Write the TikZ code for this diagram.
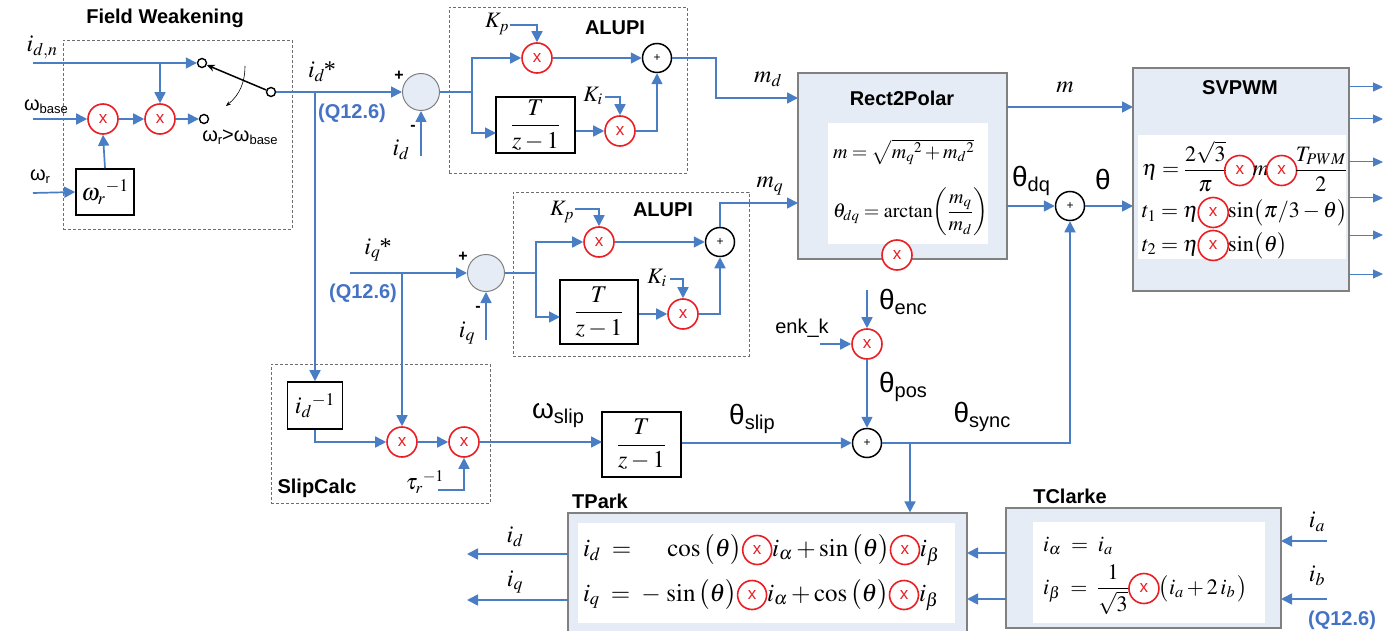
\documentclass[tikz,border=0pt]{standalone}
\usepackage{amsmath}
\usepackage{mathptmx}
\usepackage{fontspec}
\setmainfont{Liberation Serif}
\setsansfont{Liberation Sans}
\usetikzlibrary{arrows.meta,calc}
\definecolor{bl}{RGB}{74,126,196}
\definecolor{qb}{RGB}{68,114,196}
\definecolor{rd}{RGB}{235,30,35}
\definecolor{pf}{RGB}{230,236,246}
\definecolor{pb}{RGB}{128,128,128}
\definecolor{dg}{RGB}{110,110,110}
\newcommand{\glab}[2]{{\sffamily\fontsize{28}{28}\selectfont #1\raisebox{-5pt}{\fontsize{20}{20}\selectfont #2}}}
\newcommand{\wlab}[2]{{\sffamily\fontsize{20}{20}\selectfont #1\raisebox{-3pt}{\fontsize{13}{13}\selectfont #2}}}
\newcommand{\tzf}{{\fontsize{24}{26}\selectfont$\dfrac{T}{z-1}$}}
\begin{document}
\begin{tikzpicture}[x=1pt,y=-1pt,
  ln/.style={draw=bl,line width=1.7pt},
  ar/.style={ln,-{Triangle[length=11pt,width=11pt]}},
  arthin/.style={draw=bl,line width=1pt,-{Triangle[length=10pt,width=9pt]}},
  mult/.style={circle,draw=rd,line width=1.6pt,minimum size=30pt,inner sep=0pt,fill=white,text=rd,font=\sffamily\fontsize{17}{17}\selectfont},
  rxf/.style={mult,fill=none},
  sumc/.style={circle,draw=black,line width=1.5pt,minimum size=29pt,inner sep=0pt,fill=white,font=\sffamily\fontsize{12}{12}\selectfont},
  bsum/.style={circle,draw=pb,line width=1pt,fill=pf,minimum size=37pt,inner sep=0pt},
  blk/.style={draw=black,line width=1.6pt,inner sep=0pt,fill=white},
  dbox/.style={draw=dg,line width=0.9pt,dash pattern=on 3pt off 2pt,inner sep=0pt},
  panel/.style={draw=pb,line width=1.2pt,fill=pf,inner sep=0pt},
  wpanel/.style={fill=white,inner sep=0pt},
  contact/.style={circle,draw=black,line width=1.4pt,minimum size=9pt,inner sep=0pt,fill=white},
  ttl/.style={inner sep=0pt,font=\sffamily\bfseries\fontsize{20}{22}\selectfont},
  qlab/.style={inner sep=0pt,text=qb,font=\sffamily\bfseries\fontsize{20}{22}\selectfont},
  lbl/.style={inner sep=0pt,font=\fontsize{24}{26}\selectfont},
  lbltwo/.style={inner sep=0pt,font=\fontsize{22}{24}\selectfont},
  glbl/.style={inner sep=0pt},
  slbl/.style={inner sep=0pt,font=\sffamily\fontsize{20}{22}\selectfont},
  sgn/.style={inner sep=0pt,font=\sffamily\bfseries\fontsize{16}{16}\selectfont},
  fmR/.style={inner sep=0pt,outer sep=0pt,font=\fontsize{20}{24}\selectfont},
  fmS/.style={inner sep=0pt,outer sep=0pt,anchor=base west,font=\fontsize{22}{26}\selectfont},
  fmP/.style={inner sep=0pt,outer sep=0pt,anchor=base west,font=\fontsize{25}{29}\selectfont},
  fmC/.style={inner sep=0pt,outer sep=0pt,anchor=base west,font=\fontsize{22}{26}\selectfont}
]
\useasboundingbox (0,0) rectangle (1394,631);
\clip (0,0) rectangle (1394,631);

% ---------- dashed group boxes ----------
\node[dbox,minimum width=229pt,minimum height=189pt] (fwb) at (177.5,134.5) {};
\node[dbox,minimum width=238pt,minimum height=166pt] (apd) at (568,90) {};
\node[dbox,minimum width=236pt,minimum height=164pt] (apq) at (631,274) {};
\node[dbox,minimum width=219pt,minimum height=139pt] (slb) at (380.5,433.5) {};

% ---------- Field Weakening ----------
\node[ttl] (fwt) at (165,18) {Field Weakening};
\node[lbl] (lidn) at (42,47) {$i_{d,n}$};
\coordinate (idnin) at (33,63);
\node[contact] (ca) at (202,63) {};
\node[contact] (cb) at (204,119) {};
\node[contact] (cp) at (271,92) {};
\node[mult] (m1) at (103,119) {x};
\node[mult] (m2) at (160,119) {x};
\node[slbl] (lwb) at (46,107) {\wlab{ω}{base}};
\coordinate (wbin) at (33,119);
\node[blk,minimum width=58pt,minimum height=46pt] (winv) at (105,192) {\fontsize{24}{26}\selectfont$\omega_r{}^{-1}$};
\node[slbl] (lwr) at (40,177) {\wlab{ω}{r}};
\coordinate (wrin) at (33,193);
\draw[ar] (idnin) -- (ca.west);
\draw[ar] (m2.north |- idnin) -- (m2.north);
\draw[ar] (wbin) -- (m1.west);
\draw[ar] (m1) -- (m2);
\draw[ar] (m2.east) -- (cb.west);
\draw[ar] (winv.north) -- (m1.south);
\draw[ar] (wrin) -- (winv.west);
\draw[line width=1.5pt,-{Stealth[length=8pt,width=7pt]}] (cp) -- (ca);
\coordinate (swa) at (245,66);
\coordinate (swb) at (226,106);
\draw[line width=0.6pt,-{Stealth[length=5pt,width=4pt]}] (swa) to[bend left=25] (swb);
\node[slbl] (lcond) at (240,137) {\wlab{ω}{r}>\wlab{ω}{base}};

% ---------- d-axis reference ----------
\node[bsum] (sd) at (421,92) {};
\draw[ar] (cp.east) -- (sd.west);
\node[lbl] (lids) at (322,72) {$i_d$\kern-1pt*};
\node[qlab] (q1) at (352,113) {(Q12.6)};
\coordinate (spl1) at (315,92);
\node[sgn] (pd) at (399,76) {+};
\node[sgn] (nd) at (413,128) {-};
\node[lbl] (lidfb) at (401,150) {$i_d$};
\coordinate (idfb) at (421,156);
\draw[ar] (idfb) -- (sd.south);

% ---------- ALUPI d ----------
\node[ttl] (apdt) at (615,28) {ALUPI};
\coordinate (brd) at (472,92);
\node[mult] (kpd) at (537,58) {x};
\node[blk,minimum width=79pt,minimum height=56pt] (tzd) at (535.5,125) {\tzf};
\coordinate (tzdin) at (496,133);
\node[mult] (kid) at (620,131) {x};
\node[sumc] (spd) at (657,58) {+};
\draw[ln] (sd.east) -- (brd);
\draw[ar] (brd) |- (kpd.west);
\draw[ar] (brd) |- (tzdin);
\node[lbltwo] (lkpd) at (497,24) {$K_p$};
\coordinate (kpdin) at (510,25);
\draw[ar] (kpdin) -| (kpd.north);
\node[lbltwo] (lkid) at (593,96) {$K_i$};
\coordinate (kidin) at (605,97);
\draw[ar] (kidin) -| (kid.north);
\draw[ar] (kpd) -- (spd);
\draw[ar] (tzd.east |- kid) -- (kid.west);
\draw[ar] (kid.east) -| (spd.south);
\coordinate (mdin) at (798,98);
\draw[ar] (spd.east) -- ++(44,0) |- (mdin);
\node[lbl] (lmd) at (768,79) {$m_d$};

% ---------- Rect2Polar ----------
\node[panel,minimum width=209pt,minimum height=186pt] (r2p) at (902.5,166) {};
\node[ttl] (r2pt) at (902,98) {Rect2Polar};
\node[wpanel,minimum width=160pt,minimum height=121pt] (r2pw) at (908,183.5) {};
\node[fmR,anchor=west] (rpf1) at (833,152) {$m = \sqrt{m_q{}^{2} + m_d{}^{2}}$};
\node[fmR,anchor=west] (rpf2) at (833,212) {$\theta_{dq} = \arctan\!\left(\dfrac{m_q}{m_d}\right)$};
\node[mult] (r2px) at (897,255) {x};

\coordinate (mo) at (1007,107);
\coordinate (mi) at (1133,107);
\draw[ar] (mo) -- (mi);
\node[lbl] (lm) at (1065,87) {$m$};
\node[sumc] (sth) at (1070,206) {+};
\coordinate (tho) at (1007,206);
\coordinate (thi) at (1133,206);
\draw[ar] (tho) -- (sth.west);
\draw[ar] (sth.east) -- (thi);
\node[glbl] (lthdq) at (1031,181) {\glab{θ}{dq}};
\node[glbl] (lth) at (1103,182) {\glab{θ}{}};

% ---------- SVPWM ----------
\node[panel,minimum width=216pt,minimum height=223pt] (sv) at (1241,179.5) {};
\node[ttl] (svt) at (1240,88) {SVPWM};
\node[wpanel,minimum width=208pt,minimum height=124pt] (svw) at (1242,197) {};
\foreach \yy in {87,119,162,198,235,274} {
  \draw[arthin] (1349,\yy) -- (1383,\yy);
}
\node[fmS] (e1) at (1142,176) {$\eta = \dfrac{2\sqrt{3}}{\pi}$};
\node[rxf] (ex1) at ([xshift=13pt,yshift=5.5pt]e1.base east) {x};
\node[fmS] (e2) at ([xshift=26pt]e1.base east) {$m$};
\node[rxf] (ex2) at ([xshift=13pt,yshift=5.5pt]e2.base east) {x};
\node[fmS] (e3) at ([xshift=26pt]e2.base east) {$\dfrac{T_{PWM}}{2}$};
\node[fmS] (t1a) at (1142,218) {$t_1 = \eta$};
\node[rxf] (t1x) at ([xshift=15pt,yshift=5.5pt]t1a.base east) {x};
\node[fmS] (t1b) at ([xshift=30pt]t1a.base east) {$\sin\bigl(\pi/3-\theta\bigr)$};
\node[fmS] (t2a) at (1142,251) {$t_2 = \eta$};
\node[rxf] (t2x) at ([xshift=15pt,yshift=5.5pt]t2a.base east) {x};
\node[fmS] (t2b) at ([xshift=30pt]t2a.base east) {$\sin\bigl(\theta\bigr)$};

% ---------- ALUPI q ----------
\node[ttl] (apqt) at (663,210) {ALUPI};
\node[bsum] (sq) at (486,273) {};
\coordinate (iqin) at (350,273);
\draw[ar] (iqin) -- (sq.west);
\node[lbl] (liqs) at (378,250) {$i_q$\kern-1pt*};
\node[qlab] (q2) at (363,293) {(Q12.6)};
\node[sgn] (pq) at (463,257) {+};
\node[sgn] (nq) at (478,309) {-};
\node[lbl] (liqfb) at (467,333) {$i_q$};
\coordinate (iqfb) at (486,340);
\draw[ar] (iqfb) -- (sq.south);
\coordinate (brq) at (536,273);
\node[mult] (kpq) at (599,242) {x};
\node[blk,minimum width=78pt,minimum height=64pt] (tzq) at (599,312) {\tzf};
\coordinate (tzqin) at (560,317);
\node[mult] (kiq) at (683,314) {x};
\node[sumc] (spq) at (720,242) {+};
\draw[ln] (sq.east) -- (brq);
\draw[ar] (brq) |- (kpq.west);
\draw[ar] (brq) |- (tzqin);
\node[lbltwo] (lkpq) at (562,212) {$K_p$};
\coordinate (kpqin) at (575,209);
\draw[ar] (kpqin) -| (kpq.north);
\node[lbltwo] (lkiq) at (657,278) {$K_i$};
\coordinate (kiqin) at (670,279);
\draw[ar] (kiqin) -| (kiq.north);
\draw[ar] (kpq) -- (spq);
\draw[ar] (tzq.east |- kiq) -- (kiq.west);
\draw[ar] (kiq.east) -| (spq.south);
\coordinate (mqin) at (798,203);
\draw[ar] (spq.north) |- (mqin);
\node[lbl] (lmq) at (770,186) {$m_q$};

% ---------- SlipCalc ----------
\node[ttl] (slt) at (317,488) {SlipCalc};
\node[blk,minimum width=55pt,minimum height=47pt] (idinv) at (315,405.5) {\fontsize{24}{26}\selectfont$i_d{}^{-1}$};
\draw[ar] (spl1) -- (idinv.north);
\node[mult] (s1) at (402,442) {x};
\node[mult] (s2) at (464,442) {x};
\draw[ar] (idinv.south) |- (s1.west);
\coordinate (iqsp) at (402,273);
\draw[ar] (iqsp) -- (s1.north);
\draw[ar] (s1) -- (s2);
\node[lbltwo] (ltau) at (425,482) {$\tau_r{}^{-1}$};
\coordinate (tauin) at (438,490);
\draw[ar] (tauin) -| (s2.south);
\node[blk,minimum width=79pt,minimum height=65pt] (tzs) at (641.5,444.5) {\tzf};
\coordinate (tzsin) at (602,442);
\draw[ar] (s2.east) -- (tzsin);
\node[glbl] (lwsl) at (558,416) {\glab{ω}{slip}};

% ---------- angle path ----------
\node[sumc] (ssl) at (867,443) {+};
\draw[ar] (tzs.east |- ssl) -- (ssl.west);
\node[glbl] (lthsl) at (752,419) {\glab{θ}{slip}};
\node[mult] (menc) at (867,344) {x};
\coordinate (thenc) at (867,290);
\draw[ar] (thenc) -- (menc.north);
\node[glbl] (lthenc) at (903,302) {\glab{θ}{enc}};
\node[slbl] (lenk) at (802,328) {enk\_k};
\coordinate (enkin) at (820,344);
\draw[ar] (enkin) -- (menc.west);
\draw[ar] (menc.south) -- (ssl.north);
\node[glbl] (lthpos) at (903,387) {\glab{θ}{pos}};
\coordinate (thsc) at (1070,443);
\draw[ar] (ssl.east) -- (thsc) -- (sth.south);
\node[glbl] (lthsy) at (982,417) {\glab{θ}{sync}};

% ---------- TPark ----------
\node[panel,minimum width=399pt,minimum height=137pt] (tp) at (767.5,581.5) {};
\node[ttl] (tpt) at (600,501) {TPark};
\node[wpanel,minimum width=377pt,minimum height=100pt] (tpw) at (766.5,573) {};
\coordinate (thsb) at (910,443);
\draw[ar] (thsb) -- (tp.north -| thsb);
\coordinate (ido) at (467,554);
\coordinate (tpido) at (568,554);
\draw[ar] (tpido) -- (ido);
\coordinate (iqo) at (467,600);
\coordinate (tpiqo) at (568,600);
\draw[ar] (tpiqo) -- (iqo);
\node[lbl] (lido) at (515,537) {$i_d$};
\node[lbl] (liqo) at (515,582) {$i_q$};
\node[fmP] (p1a) at (583,556) {$i_d \;=\; \phantom{-}\,\cos\big(\theta\big)$};
\node[rxf,minimum size=29pt] (p1x) at ([xshift=15pt,yshift=6pt]p1a.base east) {x};
\node[fmP] (p1b) at ([xshift=30pt]p1a.base east) {$i_\alpha + \sin\big(\theta\big)$};
\node[rxf,minimum size=29pt] (p1y) at ([xshift=15pt,yshift=6pt]p1b.base east) {x};
\node[fmP] (p1c) at ([xshift=30pt]p1b.base east) {$i_\beta$};
\node[fmP] (p2a) at (583,601) {$i_q \;=\; -\,\sin\big(\theta\big)$};
\node[rxf,minimum size=29pt] (p2x) at ([xshift=15pt,yshift=6pt]p2a.base east) {x};
\node[fmP] (p2b) at ([xshift=30pt]p2a.base east) {$i_\alpha + \cos\big(\theta\big)$};
\node[rxf,minimum size=29pt] (p2y) at ([xshift=15pt,yshift=6pt]p2b.base east) {x};
\node[fmP] (p2c) at ([xshift=30pt]p2b.base east) {$i_\beta$};

% ---------- TClarke ----------
\node[panel,minimum width=275pt,minimum height=120pt] (tc) at (1143.5,568) {};
\node[ttl] (tct) at (1070,496) {TClarke};
\node[wpanel,minimum width=232pt,minimum height=101pt] (tcw) at (1149,572.5) {};
\coordinate (tco1) at (1006,553);
\coordinate (tpi1) at (967,553);
\coordinate (tco2) at (1006,599);
\coordinate (tpi2) at (967,599);
\draw[ar] (tco1) -- (tpi1);
\draw[ar] (tco2) -- (tpi2);
\coordinate (iain) at (1327,541);
\coordinate (tcia) at (1281,541);
\coordinate (ibin) at (1327,599);
\coordinate (tcib) at (1281,599);
\draw[ar] (iain) -- (tcia);
\draw[ar] (ibin) -- (tcib);
\node[lbl] (lia) at (1317,522) {$i_a$};
\node[lbl] (lib) at (1317,576) {$i_b$};
\node[qlab] (q3) at (1342,620) {(Q12.6)};
\node[fmC] (c1) at (1043,551) {$i_\alpha \;=\; i_a$};
\node[fmC] (c2a) at (1043,594) {$i_\beta \;=\; \dfrac{1}{\sqrt{3}}$};
\node[rxf] (c2x) at ([xshift=15pt,yshift=5.5pt]c2a.base east) {x};
\node[fmC] (c2b) at ([xshift=30pt]c2a.base east) {$\bigl(i_a + 2\,i_b\,\bigr)$};
\end{tikzpicture}
\end{document}
